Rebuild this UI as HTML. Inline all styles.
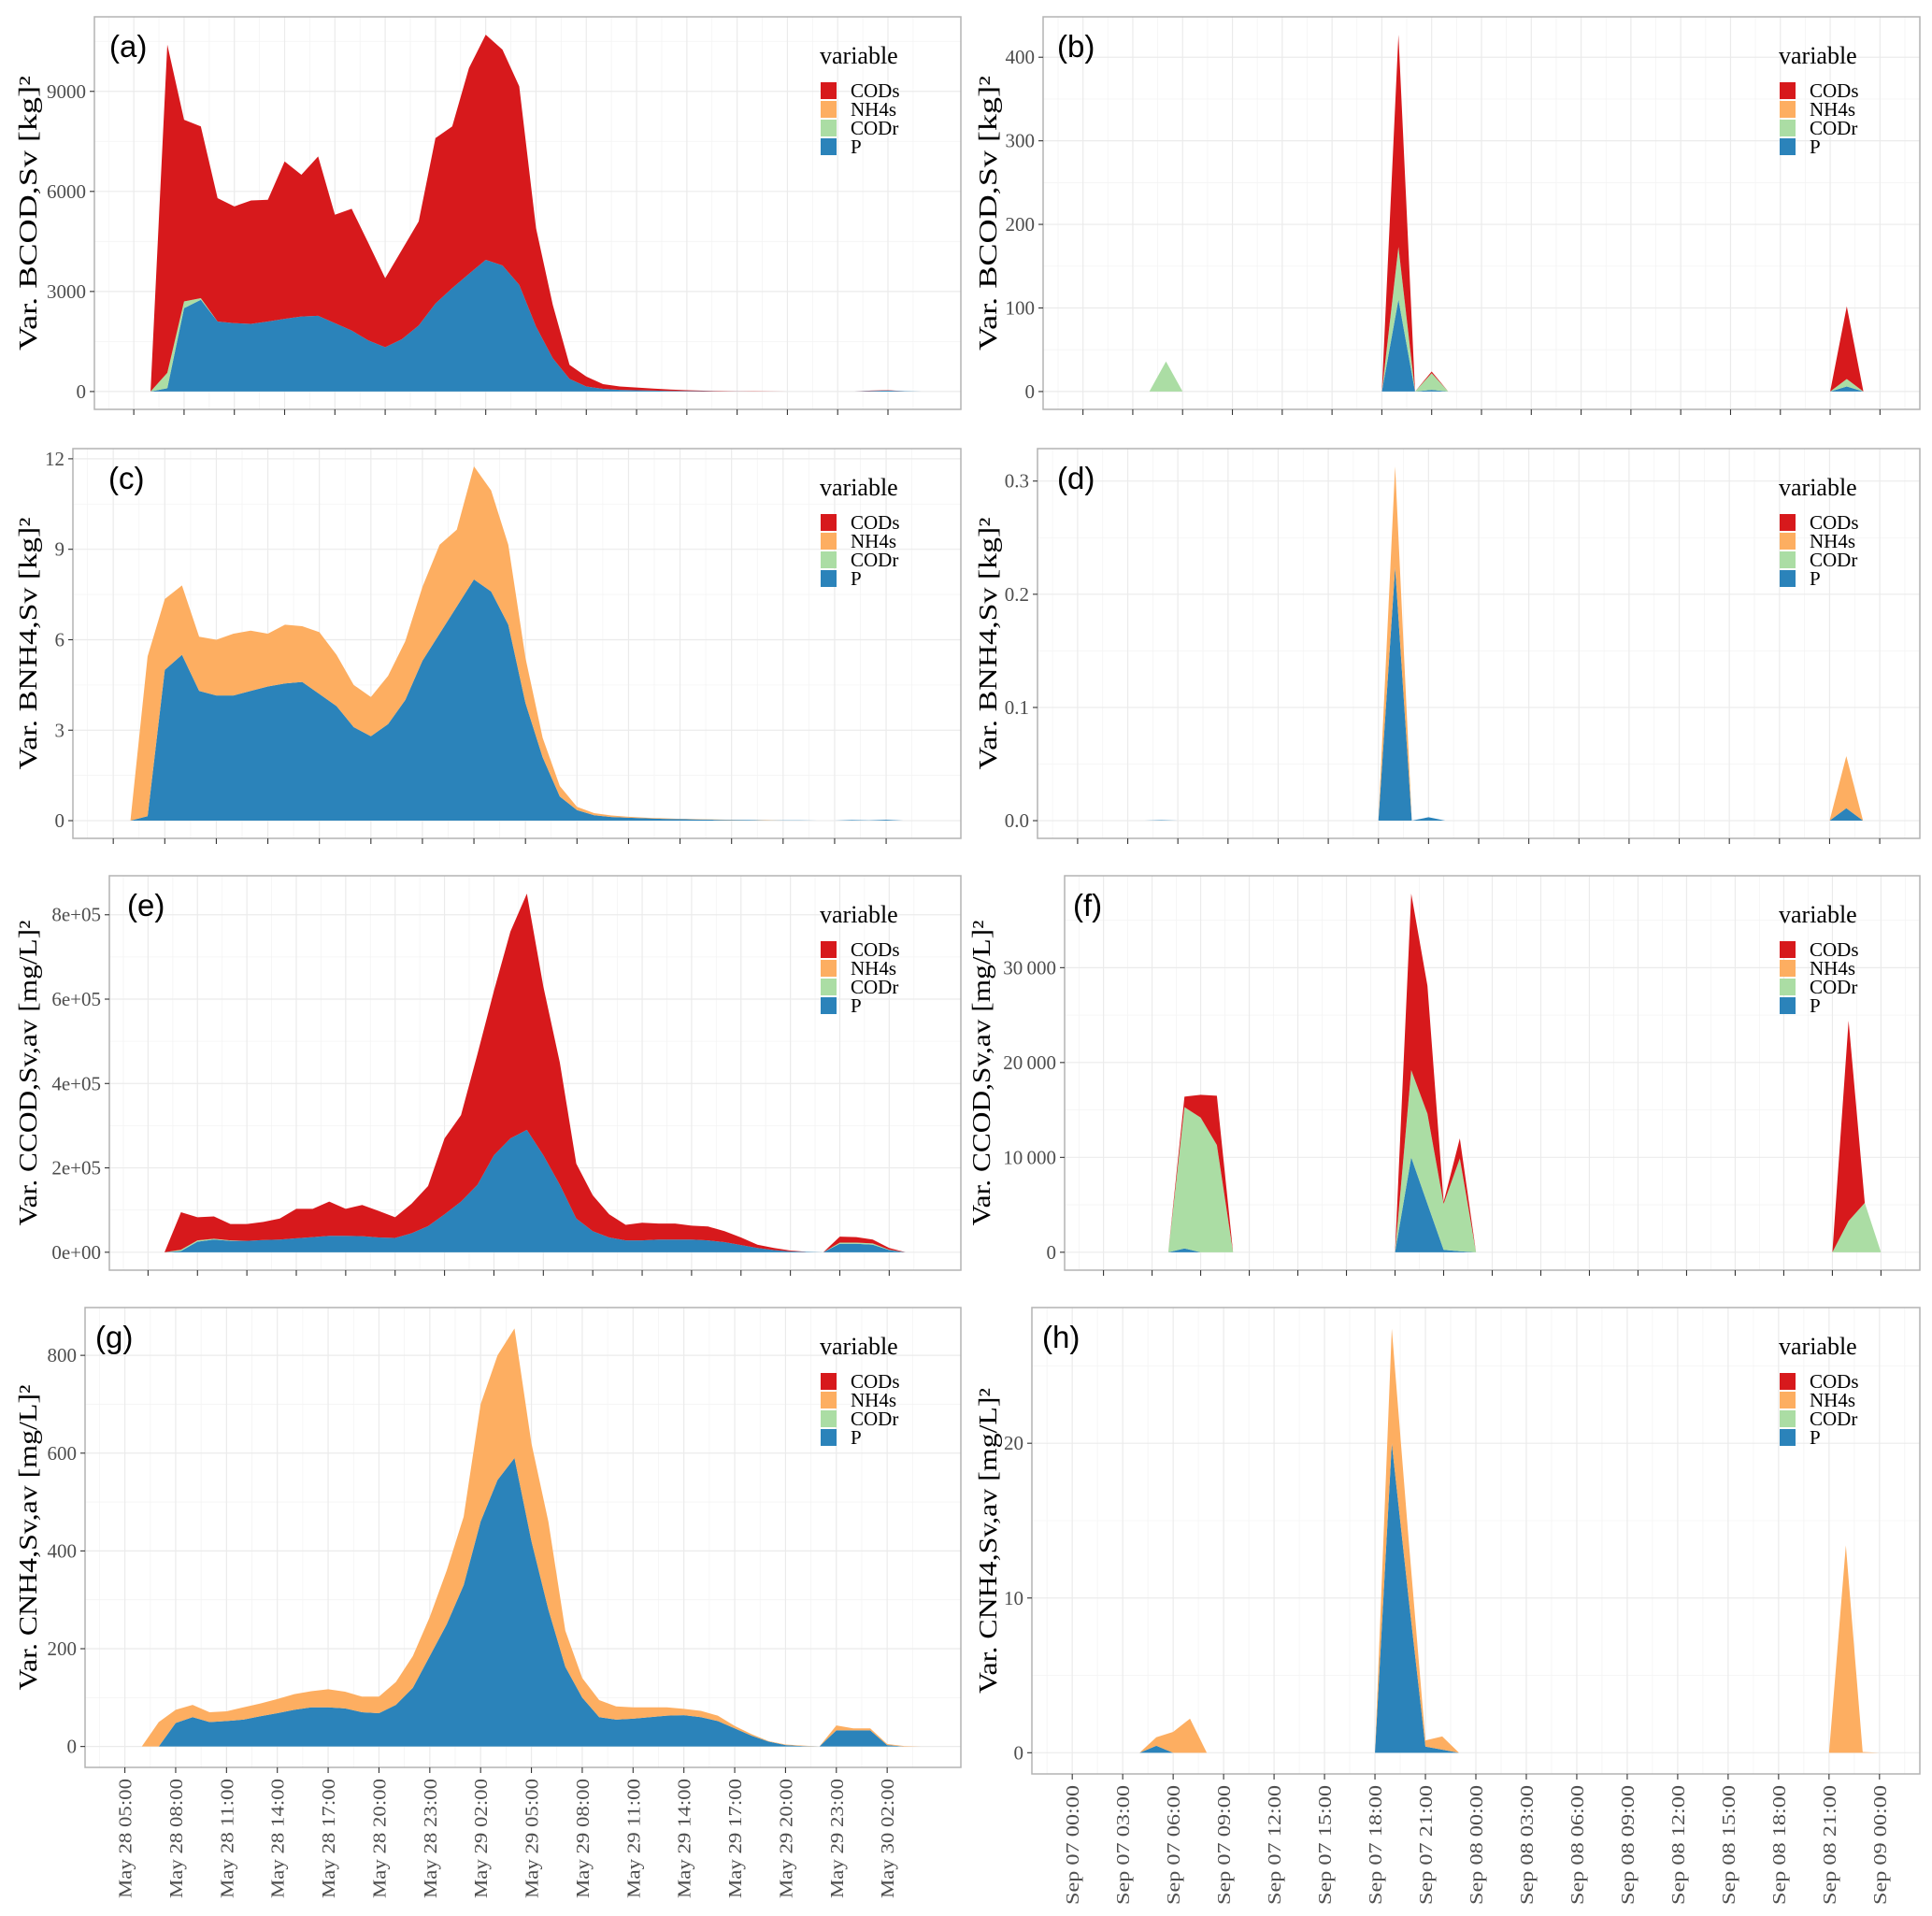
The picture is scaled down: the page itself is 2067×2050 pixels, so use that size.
<!DOCTYPE html>
<html>
<head>
<meta charset="utf-8">
<style>
html,body{margin:0;padding:0;background:#fff;}
svg{display:block;}
</style>
</head>
<body>
<svg id="chart" xmlns="http://www.w3.org/2000/svg" width="2067" height="2050" viewBox="0 0 2067 2050"></svg>
<script>
// ---------- categories ----------
const seriesNames = ["CODs","NH4s","CODr","P"];
const seriesColors = {CODs:"#d7191c",NH4s:"#fdae61",CODr:"#abdda4",P:"#2b83ba"};
const mayTickLabels = ["May 28 05:00","May 28 08:00","May 28 11:00","May 28 14:00","May 28 17:00","May 28 20:00","May 28 23:00","May 29 02:00","May 29 05:00","May 29 08:00","May 29 11:00","May 29 14:00","May 29 17:00","May 29 20:00","May 29 23:00","May 30 02:00"];
const sepTickLabels = ["Sep 07 00:00","Sep 07 03:00","Sep 07 06:00","Sep 07 09:00","Sep 07 12:00","Sep 07 15:00","Sep 07 18:00","Sep 07 21:00","Sep 08 00:00","Sep 08 03:00","Sep 08 06:00","Sep 08 09:00","Sep 08 12:00","Sep 08 15:00","Sep 08 18:00","Sep 08 21:00","Sep 09 00:00"];

// ---------- panel (a) ----------
const a_P = [0,0,100,2500,2750,2100,2050,2030,2100,2180,2250,2270,2050,1830,1530,1330,1570,1980,2640,3100,3530,3950,3780,3200,1950,1000,380,150,80,50,40,30,20,15,10,5,3,2,0,0,0,0,0,0,20,30,10,0];
const a_CODr = [0,0,460,200,50,0,0,0,0,0,0,0,0,0,0,0,0,0,0,0,0,0,0,0,0,0,0,0,0,0,0,0,0,0,0,0,0,0,0,0,0,0,0,0,0,0,0,0];
const a_NH4s = [0,0,0,0,0,0,0,0,0,0,0,0,0,0,0,0,0,0,0,0,0,0,0,0,0,0,0,0,0,0,0,0,0,0,0,0,0,0,0,0,0,0,0,0,0,0,0,0];
const a_CODs = [0,0,9840,5450,5150,3700,3500,3700,3650,4720,4250,4780,3250,3650,2920,2070,2680,3120,4960,4850,6170,6750,6470,5950,2950,1600,420,300,140,100,80,60,40,25,15,10,5,5,5,0,0,0,0,0,10,10,0,0];
const a_ticks = [0,3000,6000,9000];
const a_tickLabels = ["0","3000","6000","9000"];

// ---------- panel (b) ----------
const b_P =    [0,0,0,0,0,0,0,0,0,0, 0,0,0,0,0,0,0,0,0,110, 0,2,0,0,0,0,0,0,0,0, 0,0,0,0,0,0,0,0,0,0, 0,0,0,0,0,0,6,0,0];
const b_CODr = [0,0,0,0,0,36,0,0,0,0, 0,0,0,0,0,0,0,0,0,63, 0,20,0,0,0,0,0,0,0,0, 0,0,0,0,0,0,0,0,0,0, 0,0,0,0,0,0,9,0,0];
const b_NH4s = [0,0,0,0,0,0,0,0,0,0, 0,0,0,0,0,0,0,0,0,0, 0,0,0,0,0,0,0,0,0,0, 0,0,0,0,0,0,0,0,0,0, 0,0,0,0,0,0,0,0,0];
const b_CODs = [0,0,0,0,0,0,0,0,0,0, 0,0,0,0,0,0,0,0,0,254, 0,2,0,0,0,0,0,0,0,0, 0,0,0,0,0,0,0,0,0,0, 0,0,0,0,0,0,87,0,0];
const b_ticks = [0,100,200,300,400];
const b_tickLabels = ["0","100","200","300","400"];

// ---------- panel (c) ----------
const c_P = [0,0,0.15,5.0,5.5,4.3,4.15,4.15,4.3,4.45,4.55,4.6,4.2,3.8,3.1,2.8,3.2,4.0,5.3,6.2,7.1,8.0,7.6,6.5,3.9,2.1,0.8,0.35,0.18,0.12,0.1,0.08,0.06,0.05,0.04,0.03,0.02,0.02,0.01,0.01,0.01,0,0,0.02,0.01,0.03,0,0];
const c_CODr = [0,0,0,0,0,0,0,0,0,0,0,0,0,0,0,0,0,0,0,0,0,0,0,0,0,0,0,0,0,0,0,0,0,0,0,0,0,0,0,0,0,0,0,0,0,0,0,0];
const c_NH4s = [0,0,5.3,2.35,2.3,1.8,1.85,2.05,2.0,1.75,1.95,1.85,2.05,1.7,1.4,1.3,1.6,1.95,2.45,2.95,2.55,3.75,3.35,2.65,1.5,0.65,0.35,0.11,0.07,0.05,0.03,0.02,0.02,0.01,0.01,0.01,0.01,0,0.01,0,0,0,0,0,0,0,0,0];
const c_CODs = [0,0,0,0,0,0,0,0,0,0,0,0,0,0,0,0,0,0,0,0,0,0,0,0,0,0,0,0,0,0,0,0,0,0,0,0,0,0,0,0,0,0,0,0,0,0,0,0];
const c_ticks = [0,3,6,9,12];
const c_tickLabels = ["0","3","6","9","12"];

// ---------- panel (d) ----------
const d_P =    [0,0,0,0,0,0.0005,0,0,0,0, 0,0,0,0,0,0,0,0,0,0.224, 0,0.003,0,0,0,0,0,0,0,0, 0,0,0,0,0,0,0,0,0,0, 0,0,0,0,0,0,0.011,0,0];
const d_CODr = [0,0,0,0,0,0,0,0,0,0, 0,0,0,0,0,0,0,0,0,0, 0,0,0,0,0,0,0,0,0,0, 0,0,0,0,0,0,0,0,0,0, 0,0,0,0,0,0,0,0,0];
const d_NH4s = [0,0,0,0,0,0,0,0,0,0, 0,0,0,0,0,0,0,0,0,0.089, 0,0,0,0,0,0,0,0,0,0, 0,0,0,0,0,0,0,0,0,0, 0,0,0,0,0,0,0.046,0,0];
const d_CODs = [0,0,0,0,0,0,0,0,0,0, 0,0,0,0,0,0,0,0,0,0, 0,0,0,0,0,0,0,0,0,0, 0,0,0,0,0,0,0,0,0,0, 0,0,0,0,0,0,0,0,0];
const d_ticks = [0,0.1,0.2,0.3];
const d_tickLabels = ["0.0","0.1","0.2","0.3"];

// ---------- panel (e) ----------
const e_P = [0,0,3000,25000,30000,27000,27000,29000,30000,33000,36000,39000,39000,38000,35000,34000,45000,62000,90000,120000,160000,230000,270000,290000,230000,160000,80000,50000,35000,28000,28000,30000,30000,30000,28000,24000,17000,10000,5000,2000,1000,0,20000,20000,18000,5000,0,0];
const e_CODr = [0,0,3000,3000,2000,1000,0,0,0,0,0,0,0,0,0,0,0,0,0,0,0,0,0,0,0,0,0,0,0,0,0,0,0,0,0,0,0,0,0,0,0,0,3000,3000,3000,1000,0,0];
const e_NH4s = [0,0,0,0,0,0,0,0,0,0,0,0,0,0,0,0,0,0,0,0,0,0,0,0,0,0,0,0,0,0,0,0,0,0,0,0,0,0,0,0,0,0,0,0,0,0,0,0];
const e_CODs = [0,0,89000,55000,53000,39000,40000,43000,50000,70000,67000,81000,64000,74000,63000,49000,70000,95000,180000,205000,310000,390000,490000,560000,400000,290000,130000,85000,55000,37000,42000,38000,38000,33000,33000,26000,18000,8000,5000,2000,0,0,14000,13000,9000,4000,0,0];
const e_ticks = [0,200000,400000,600000,800000];
const e_tickLabels = ["0e+00","2e+05","4e+05","6e+05","8e+05"];

// ---------- panel (f) ----------
const f_P =    [0,0,0,0,0,400,0,0,0,0, 0,0,0,0,0,0,0,0,0,10000, 5100,250,100,0,0,0,0,0,0,0, 0,0,0,0,0,0,0,0,0,0, 0,0,0,0,0,0,0,0,0];
const f_CODr = [0,0,0,0,0,14900,14200,11300,0,0, 0,0,0,0,0,0,0,0,0,9200, 9500,4850,9800,0,0,0,0,0,0,0, 0,0,0,0,0,0,0,0,0,0, 0,0,0,0,0,0,3300,5200,0];
const f_NH4s = [0,0,0,0,0,0,0,0,0,0, 0,0,0,0,0,0,0,0,0,0, 0,0,0,0,0,0,0,0,0,0, 0,0,0,0,0,0,0,0,0,0, 0,0,0,0,0,0,0,0,0];
const f_CODs = [0,0,0,0,0,1100,2400,5200,0,0, 0,0,0,0,0,0,0,0,0,18600, 13500,200,2100,0,0,0,0,0,0,0, 0,0,0,0,0,0,0,0,0,0, 0,0,0,0,0,0,21100,0,0];
const f_ticks = [0,10000,20000,30000];
const f_tickLabels = ["0","10\u2009000","20\u2009000","30\u2009000"];

// ---------- panel (g) ----------
const g_P = [0,0,0,48,60,50,52,55,62,68,75,80,80,78,70,68,85,120,185,250,330,460,545,590,420,280,163,100,60,55,57,60,63,64,60,52,37,22,10,3,1,0,33,33,33,3,0,0];
const g_CODr = [0,0,0,0,0,0,0,0,0,0,0,0,0,0,0,0,0,0,0,0,0,0,0,0,0,0,0,0,0,0,0,0,0,0,0,0,0,0,0,0,0,0,0,0,0,0,0,0];
const g_NH4s = [0,0,50,27,25,20,20,25,26,29,32,33,37,34,32,34,47,65,80,110,140,240,255,265,200,180,74,40,35,27,23,20,17,13,13,11,5,3,1,1,1,0,10,4,4,2,1,0];
const g_CODs = [0,0,0,0,0,0,0,0,0,0,0,0,0,0,0,0,0,0,0,0,0,0,0,0,0,0,0,0,0,0,0,0,0,0,0,0,0,0,0,0,0,0,0,0,0,0,0,0];
const g_ticks = [0,200,400,600,800];
const g_tickLabels = ["0","200","400","600","800"];

// ---------- panel (h) ----------
const h_P =    [0,0,0,0,0,0.45,0,0,0,0, 0,0,0,0,0,0,0,0,0,20, 10,0.4,0.2,0,0,0,0,0,0,0, 0,0,0,0,0,0,0,0,0,0, 0,0,0,0,0,0,0,0,0];
const h_CODr = [0,0,0,0,0,0,0,0,0,0, 0,0,0,0,0,0,0,0,0,0, 0,0,0,0,0,0,0,0,0,0, 0,0,0,0,0,0,0,0,0,0, 0,0,0,0,0,0,0,0,0];
const h_NH4s = [0,0,0,0,0,0.55,1.35,2.2,0,0, 0,0,0,0,0,0,0,0,0,7.4, 3.8,0.4,0.85,0,0,0,0,0,0,0, 0,0,0,0,0,0,0,0,0,0, 0,0,0,0,0,0,13.4,0.05,0];
const h_CODs = [0,0,0,0,0,0,0,0,0,0, 0,0,0,0,0,0,0,0,0,0, 0,0,0,0,0,0,0,0,0,0, 0,0,0,0,0,0,0,0,0,0, 0,0,0,0,0,0,0,0,0];
const h_ticks = [0,10,20];
const h_tickLabels = ["0","10","20"];

const NS = "http://www.w3.org/2000/svg";
const svg = document.getElementById("chart");
function mk(tag, attrs, parent) {
  const el = document.createElementNS(NS, tag);
  for (const k in attrs) el.setAttribute(k, attrs[k]);
  (parent || svg).appendChild(el);
  return el;
}

const panels = [
  {id:"a", L:101, T:18, R:1028, B:438, P:a_P, CODr:a_CODr, NH4s:a_NH4s, CODs:a_CODs, ticks:a_ticks, tl:a_tickLabels, xl:mayTickLabels, title:"Var.  BCOD,Sv  [kg]", tlen:294, tx:30, tagx:117, showX:false},
  {id:"b", L:1116, T:18, R:2054, B:438, P:b_P, CODr:b_CODr, NH4s:b_NH4s, CODs:b_CODs, ticks:b_ticks, tl:b_tickLabels, xl:sepTickLabels, title:"Var.  BCOD,Sv  [kg]", tlen:294, tx:1057, tagx:1131, showX:false},
  {id:"c", L:78, T:480, R:1028, B:897, P:c_P, CODr:c_CODr, NH4s:c_NH4s, CODs:c_CODs, ticks:c_ticks, tl:c_tickLabels, xl:mayTickLabels, title:"Var.  BNH4,Sv  [kg]", tlen:270, tx:30, tagx:116, showX:false},
  {id:"d", L:1110, T:480, R:2054, B:897, P:d_P, CODr:d_CODr, NH4s:d_NH4s, CODs:d_CODs, ticks:d_ticks, tl:d_tickLabels, xl:sepTickLabels, title:"Var.  BNH4,Sv  [kg]", tlen:270, tx:1057, tagx:1131, showX:false},
  {id:"e", L:117, T:937, R:1028, B:1359, P:e_P, CODr:e_CODr, NH4s:e_NH4s, CODs:e_CODs, ticks:e_ticks, tl:e_tickLabels, xl:mayTickLabels, title:"Var.  CCOD,Sv,av  [mg/L]", tlen:327, tx:30, tagx:136, showX:false},
  {id:"f", L:1139, T:937, R:2054, B:1359, P:f_P, CODr:f_CODr, NH4s:f_NH4s, CODs:f_CODs, ticks:f_ticks, tl:f_tickLabels, xl:sepTickLabels, title:"Var.  CCOD,Sv,av  [mg/L]", tlen:327, tx:1050, tagx:1148, showX:false},
  {id:"g", L:91, T:1399, R:1028, B:1891, P:g_P, CODr:g_CODr, NH4s:g_NH4s, CODs:g_CODs, ticks:g_ticks, tl:g_tickLabels, xl:mayTickLabels, title:"Var.  CNH4,Sv,av  [mg/L]", tlen:327, tx:30, tagx:102, showX:true},
  {id:"h", L:1104, T:1399, R:2054, B:1898, P:h_P, CODr:h_CODr, NH4s:h_NH4s, CODs:h_CODs, ticks:h_ticks, tl:h_tickLabels, xl:sepTickLabels, title:"Var.  CNH4,Sv,av  [mg/L]", tlen:327, tx:1057, tagx:1115, showX:true}
];

panels.forEach(p => {
  const n = p.P.length - 1;
  const W = p.R - p.L, H = p.B - p.T;
  const xs = h => p.L + W * (0.05/1.1 + (1/1.1) * h / n);
  let ymax = 0;
  for (let i = 0; i <= n; i++) ymax = Math.max(ymax, p.P[i] + p.CODr[i] + p.NH4s[i] + p.CODs[i]);
  const lo = -0.05 * ymax, hi = ymax * 1.05;
  const ys = v => p.B - (v - lo) / (hi - lo) * H;

  const g = mk("g", {});
  
  

  const bg = mk("rect", {x:p.L, y:p.T, width:W, height:H, fill:"#fff"}, g);
  
  

  const majH = [];
  for (let h = 0; h <= n; h += 3) majH.push(h);
  for (let h = -1.5; h <= n + 1.5; h += 3) {
    const x = xs(h);
    if (x <= p.L || x >= p.R) continue;
    const l = mk("line", {x1:x, x2:x, y1:p.T, y2:p.B, stroke:"#f4f4f4", "stroke-width":0.8}, g);
    
    
  }
  const tstep = p.ticks[1] - p.ticks[0];
  for (let k = -1; k < p.ticks.length + 1; k++) {
    const v = p.ticks[0] + tstep * (k + 0.5);
    const y = ys(v);
    if (y <= p.T || y >= p.B) continue;
    const l = mk("line", {x1:p.L, x2:p.R, y1:y, y2:y, stroke:"#f4f4f4", "stroke-width":0.8}, g);
    
    
  }
  majH.forEach(h => {
    const l = mk("line", {x1:xs(h), x2:xs(h), y1:p.T, y2:p.B, stroke:"#ebebeb", "stroke-width":1.2}, g);
    
    
  });
  p.ticks.forEach(v => {
    const l = mk("line", {x1:p.L, x2:p.R, y1:ys(v), y2:ys(v), stroke:"#ebebeb", "stroke-width":1.2}, g);
    
    
  });

  const order = ["P","CODr","NH4s","CODs"];
  const base = new Array(n + 1).fill(0);
  order.forEach(s => {
    const arr = p[s];
    const top = base.map((b, i) => b + arr[i]);
    let pts = [];
    for (let i = 0; i <= n; i++) pts.push(xs(i).toFixed(2) + "," + ys(top[i]).toFixed(2));
    for (let i = n; i >= 0; i--) pts.push(xs(i).toFixed(2) + "," + ys(base[i]).toFixed(2));
    const poly = mk("polygon", {points:pts.join(" "), fill:seriesColors[s], stroke:"none"}, g);
    
    
    for (let i = 0; i <= n; i++) base[i] = top[i];
  });

  const br = mk("rect", {x:p.L, y:p.T, width:W, height:H, fill:"none", stroke:"#b3b3b3", "stroke-width":1.5}, g);
  
  

  p.ticks.forEach((v, k) => {
    const y = ys(v);
    const tk = mk("line", {x1:p.L - 5, x2:p.L, y1:y, y2:y, stroke:"#333", "stroke-width":1.1}, g);
    
    
    const t = mk("text", {x:p.L - 9, y:y + 7, "text-anchor":"end", "font-family":"'Liberation Serif', serif", "font-size":21, fill:"#4d4d4d"}, g);
    t.textContent = p.tl[k];
    
    
  });

  majH.forEach((h, k) => {
    const x = xs(h);
    const tk = mk("line", {x1:x, x2:x, y1:p.B, y2:p.B + 6, stroke:"#333", "stroke-width":1.1}, g);
    
    
    if (p.showX) {
      const ty = p.B + 12;
      const t = mk("text", {x:x + 7, y:ty, transform:"rotate(-90 " + (x + 7) + " " + ty + ")", "text-anchor":"end", "font-family":"'Liberation Serif', serif", "font-size":20, fill:"#4d4d4d", textLength:128, lengthAdjust:"spacingAndGlyphs"}, g);
      t.textContent = p.xl[k];
      
      
    }
  });

  const cy = (p.T + p.B) / 2;
  const yt = mk("text", {x:p.tx + 9, y:cy, transform:"rotate(-90 " + (p.tx + 9) + " " + cy + ")", "text-anchor":"middle", "font-family":"'Liberation Serif', serif", "font-size":27, fill:"#000", textLength:p.tlen, lengthAdjust:"spacingAndGlyphs", "xml:space":"preserve"}, g);
  yt.textContent = p.title + "\u00b2";
  
  

  const tag = mk("text", {x:p.tagx, y:p.T + 43, "font-family":"'Liberation Sans', sans-serif", "font-size":33, fill:"#000"}, g);
  tag.textContent = "(" + p.id + ")";
  
  

  const lx = p.R - 150;
  const lg = mk("g", {}, g);
  
  
  const lt = mk("text", {x:lx - 1, y:p.T + 50, "font-family":"'Liberation Serif', serif", "font-size":26, fill:"#000"}, lg);
  lt.textContent = "variable";
  
  
  seriesNames.forEach((s, k) => {
    const ry = p.T + 70 + k * 20;
    const key = mk("rect", {x:lx, y:ry, width:17, height:18, fill:seriesColors[s]}, lg);
    
    
    const lab = mk("text", {x:lx + 32, y:ry + 16, "font-family":"'Liberation Serif', serif", "font-size":21, fill:"#000"}, lg);
    lab.textContent = s;
    
    
  });
});
</script>
</body>
</html>
